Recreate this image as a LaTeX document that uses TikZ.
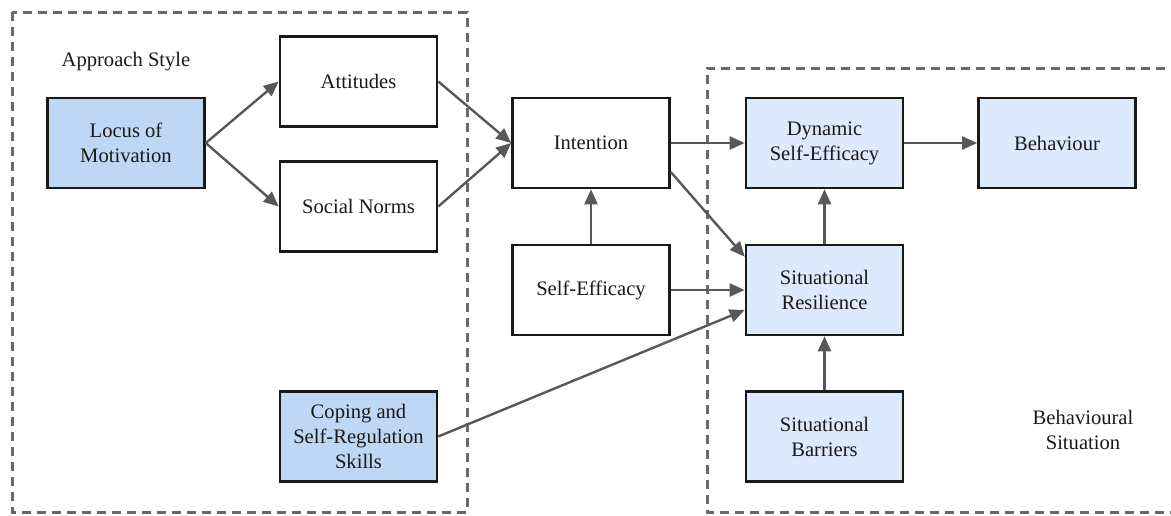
\documentclass[tikz,border=0pt]{standalone}
\usepackage{fontspec}
\setmainfont{Liberation Serif}
\usetikzlibrary{arrows.meta}
\definecolor{boxdeep}{RGB}{189,215,245}
\definecolor{boxpale}{RGB}{221,234,251}
\definecolor{linkgray}{RGB}{88,88,88}
\definecolor{framegray}{RGB}{105,105,105}
\definecolor{edgeblack}{RGB}{25,25,25}
\tikzset{
  stage/.style={draw=edgeblack, line width=2.6pt, minimum width=157pt, minimum height=90pt,
    align=center, font=\fontsize{20.6}{25}\selectfont, inner sep=2pt, text=black!90},
  plain/.style={stage, fill=white},
  deep/.style={stage, fill=boxdeep},
  pale/.style={stage, fill=boxpale},
  link/.style={draw=linkgray, line width=2.4pt, -{Triangle[length=15pt,width=13pt]}},
  frame/.style={draw=framegray, line width=3pt, dash pattern=on 9pt off 6pt},
  caption/.style={align=center, font=\fontsize{20.6}{25.5}\selectfont, text=black!90}
}
\begin{document}
\begin{tikzpicture}[x=1pt, y=-1pt]
  \useasboundingbox (0,0) rectangle (1171,515);
  \clip (0,0) rectangle (1171,515);

  % dashed groupings
  \draw[frame] (12,12) rectangle (467,512);
  \draw[frame] (1180,68) -- (707,68) -- (707,512) -- (1180,512);

  % group labels
  \node[caption] (approach) at (126,62) {Approach Style};
  \node[caption] (situation) at (1083,430) {Behavioural\\Situation};

  % factors
  \node[deep]  (locus) at (126,143)   {Locus of\\Motivation};
  \node[plain] (att)   at (358.5,81.5)  {Attitudes};
  \node[plain] (soc)   at (358.5,206.5) {Social Norms};
  \node[plain] (int)   at (591,143)   {Intention};
  \node[plain] (seff)  at (591,290)   {Self-Efficacy};
  \node[deep]  (cope)  at (358.5,436.5) {Coping and\\Self-Regulation\\Skills};
  \node[pale]  (dyn)   at (824.5,143) {Dynamic\\Self-Efficacy};
  \node[pale]  (beh)   at (1057,143)  {Behaviour};
  \node[pale]  (res)   at (824.5,290) {Situational\\Resilience};
  \node[pale]  (bar)   at (824.5,436.5) {Situational\\Barriers};

  % influences
  \draw[link] (locus.east) -- (att.west);
  \draw[link] (locus.east) -- (soc.west);
  \draw[link] (att.east) -- (int.west);
  \draw[link] (soc.east) -- (int.west);
  \draw[link] (int.east) -- (dyn.west);
  \draw[link] ([yshift=-29pt]int.east) -- ([yshift=-13pt]res.north west);
  \draw[link] (seff.east) -- (res.west);
  \draw[link] (cope.east) -- ([yshift=-20pt]res.west);
  \draw[link] (seff.north) -- (int.south);
  \draw[link] (res.north) -- (dyn.south);
  \draw[link] (bar.north) -- (res.south);
  \draw[link] (dyn.east) -- (beh.west);
\end{tikzpicture}
\end{document}
